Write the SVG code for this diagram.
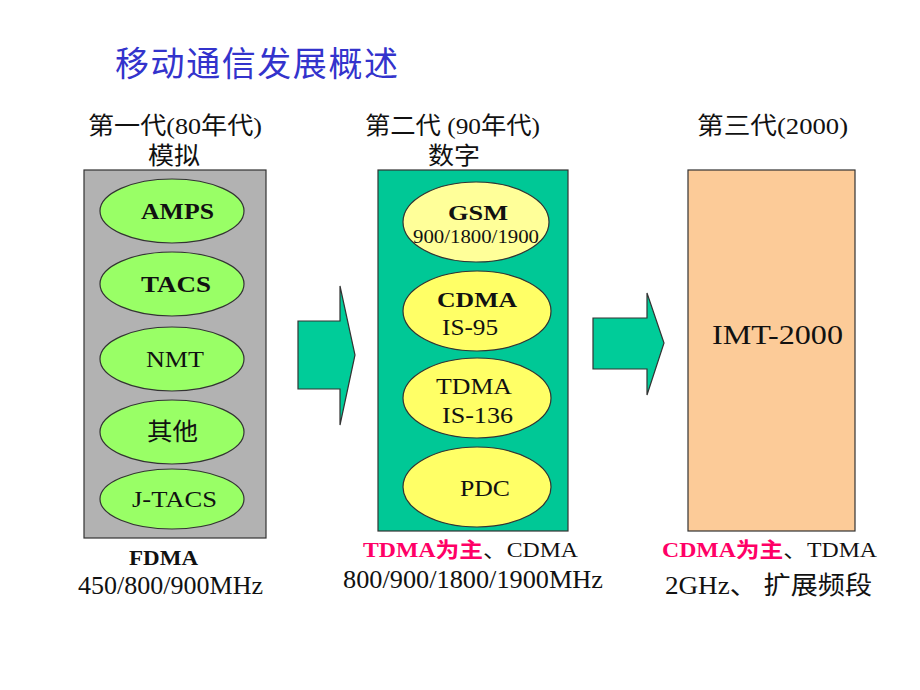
<svg xmlns="http://www.w3.org/2000/svg" width="920" height="690" viewBox="0 0 920 690">
<style>
.t{font-family:"Liberation Serif","Noto Sans CJK SC",serif;fill:#111}
.b{font-weight:bold}
.pk{fill:#ff0066;font-weight:bold}
.el{stroke:#333;stroke-width:1.2}
.g{fill:#99ff66}
.y1{fill:#ffff99}
.y2{fill:#ffff66}
.box{stroke:#333;stroke-width:1.2}
.arr{fill:#00cc99;stroke:#333;stroke-width:1.2}
</style>
<rect width="920" height="690" fill="#fff"/>
<text x="115" y="76" font-family="'Noto Sans CJK SC',sans-serif" font-size="34" fill="#3333cc" textLength="283">移动通信发展概述</text>

<g id="heading1" class="t" font-size="24" lengthAdjust="spacingAndGlyphs">
<text x="88" y="134" textLength="174" lengthAdjust="spacingAndGlyphs">第一代(80年代)</text>
<text x="148" y="164" textLength="52" lengthAdjust="spacingAndGlyphs">模拟</text>
</g>
<g id="heading2" class="t" font-size="24">
<text x="365" y="134" textLength="175" lengthAdjust="spacingAndGlyphs">第二代 (90年代)</text>
<text x="428" y="164" textLength="52" lengthAdjust="spacingAndGlyphs">数字</text>
</g>
<g id="heading3" class="t" font-size="24">
<text x="697" y="134" textLength="151" lengthAdjust="spacingAndGlyphs">第三代(2000)</text>
</g>

<g id="gen1">
<rect class="box" x="84" y="170" width="182" height="368" fill="#b2b2b2"/>
<g id="amps"><ellipse class="el g" cx="172" cy="211" rx="72" ry="32"/><text class="t b" x="141" y="219" font-size="23" textLength="73" lengthAdjust="spacingAndGlyphs">AMPS</text></g>
<g id="tacs"><ellipse class="el g" cx="172" cy="284" rx="72" ry="32"/><text class="t b" x="141" y="292" font-size="23" textLength="70" lengthAdjust="spacingAndGlyphs">TACS</text></g>
<g id="nmt"><ellipse class="el g" cx="172" cy="359" rx="72" ry="32"/><text class="t" x="146" y="367" font-size="23" textLength="58" lengthAdjust="spacingAndGlyphs">NMT</text></g>
<g id="other"><ellipse class="el g" cx="172" cy="432" rx="72" ry="32"/><text class="t" x="147" y="440" font-size="24" textLength="51" lengthAdjust="spacingAndGlyphs">其他</text></g>
<g id="jtacs"><ellipse class="el g" cx="172" cy="499" rx="72" ry="30"/><text class="t" x="132" y="507" font-size="23" textLength="85" lengthAdjust="spacingAndGlyphs">J-TACS</text></g>
</g>

<g id="gen2">
<rect class="box" x="378" y="170" width="190" height="361" fill="#00c896"/>
<g id="gsm"><ellipse class="el y1" cx="476" cy="222" rx="73" ry="40"/><text class="t b" x="448" y="220" font-size="22" textLength="60" lengthAdjust="spacingAndGlyphs">GSM</text><text class="t" x="413" y="243" font-size="18" textLength="126" lengthAdjust="spacingAndGlyphs">900/1800/1900</text></g>
<g id="cdma"><ellipse class="el y2" cx="477" cy="311" rx="74" ry="40"/><text class="t b" x="437" y="307" font-size="22" textLength="80" lengthAdjust="spacingAndGlyphs">CDMA</text><text class="t" x="442" y="335" font-size="23" textLength="56" lengthAdjust="spacingAndGlyphs">IS-95</text></g>
<g id="tdma"><ellipse class="el y2" cx="477" cy="398" rx="74" ry="40"/><text class="t" x="436" y="394" font-size="23" textLength="76" lengthAdjust="spacingAndGlyphs">TDMA</text><text class="t" x="442" y="423" font-size="23" textLength="71" lengthAdjust="spacingAndGlyphs">IS-136</text></g>
<g id="pdc"><ellipse class="el y2" cx="477" cy="487" rx="74" ry="40"/><text class="t" x="460" y="496" font-size="23" textLength="50" lengthAdjust="spacingAndGlyphs">PDC</text></g>
</g>

<g id="gen3">
<rect class="box" x="688" y="170" width="167" height="361" fill="#fccb98"/>
<text class="t" x="712" y="344" font-size="27" textLength="131" lengthAdjust="spacingAndGlyphs">IMT-2000</text>
</g>

<g id="connectors">
<path class="arr" d="M298 321 H340 V286 L355 355 L340 425 V389 H298 Z"/>
<path class="arr" d="M593 318 H647 V293 L664 343 L647 395 V369 H593 Z"/>
</g>

<g id="foot1" class="t">
<text class="b" x="129" y="565" font-size="20" textLength="69" lengthAdjust="spacingAndGlyphs">FDMA</text>
<text x="78" y="594" font-size="25" textLength="185" lengthAdjust="spacingAndGlyphs">450/800/900MHz</text>
</g>
<g id="foot2" class="t">
<text x="363" y="557" font-size="21" textLength="215" lengthAdjust="spacingAndGlyphs"><tspan class="pk">TDMA为主</tspan>、CDMA</text>
<text x="343" y="588" font-size="25" textLength="260" lengthAdjust="spacingAndGlyphs">800/900/1800/1900MHz</text>
</g>
<g id="foot3" class="t">
<text x="662" y="557" font-size="21" textLength="215" lengthAdjust="spacingAndGlyphs"><tspan class="pk">CDMA为主</tspan>、TDMA</text>
<text x="665" y="594" font-size="25" textLength="207" lengthAdjust="spacingAndGlyphs">2GHz、 扩展频段</text>
</g>
</svg>
